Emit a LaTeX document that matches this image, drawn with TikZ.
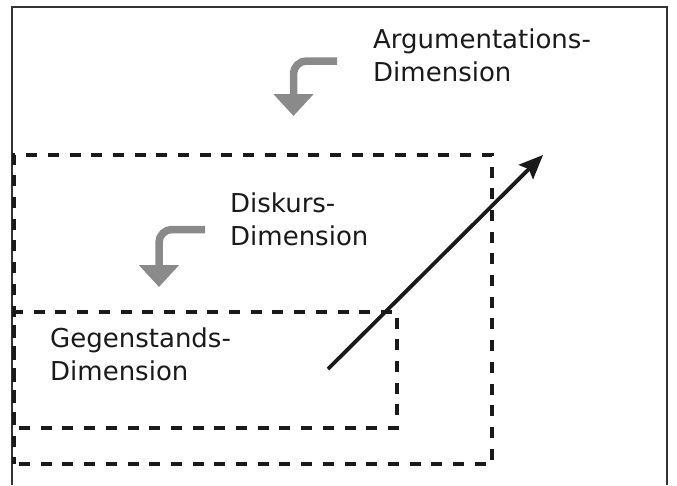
\documentclass[tikz,border=0pt]{standalone}
\usepackage{fontspec}
\setmainfont{DejaVu Sans}
\usetikzlibrary{arrows.meta}
\definecolor{arrgray}{HTML}{8A8A8A}
\definecolor{inkdark}{HTML}{1A1A1A}
\begin{document}
\begin{tikzpicture}[x=1pt,y=-1pt,
  lbl/.style={inner sep=0pt, anchor=base west, align=left,
    font=\fontsize{26}{33}\selectfont, text=inkdark},
  dimbox/.style={draw=inkdark, line width=3.3pt, dash pattern=on 11pt off 10.7pt,
    dash phase=-5pt, inner sep=0pt, outer sep=0pt, anchor=north west},
  bendarrow/.style={draw=arrgray, line width=7.5pt, rounded corners=13pt,
    -{Triangle[length=22pt,width=39pt]}},
  mainarrow/.style={draw=inkdark, line width=3.8pt,
    -{Stealth[length=24pt,width=20pt,inset=4pt]}},
  frame/.style={draw=black!80, line width=1.5pt}]
\useasboundingbox (0,0) rectangle (677,485);
% outer frame
\coordinate (f1) at (12,485);
\coordinate (f2) at (12,7);
\coordinate (f3) at (667,7);
\coordinate (f4) at (667,485);
\draw[frame] (f1) -- (f2) -- (f3) -- (f4);
% dashed boxes
\node[dimbox, minimum width=478pt, minimum height=309pt] (diskbox) at (14,155) {};
\node[dimbox, minimum width=383pt, minimum height=116pt] (gegbox) at (14,312) {};
% labels (anchor = baseline of last line)
\node[lbl] (arg) at (373,81) {Argumentations-\\Dimension};
\node[lbl] (disk) at (230,245) {Diskurs-\\Dimension};
\node[lbl] (geg) at (50,380) {Gegenstands-\\Dimension};
% gray bent arrows
\coordinate (ga1) at (337,61);
\coordinate (ga2) at (293.5,61);
\coordinate (ga3) at (293.5,116);
\draw[bendarrow] (ga1) -- (ga2) -- (ga3);
\coordinate (gd1) at (205,229.5);
\coordinate (gd2) at (159,229.5);
\coordinate (gd3) at (159,287);
\draw[bendarrow] (gd1) -- (gd2) -- (gd3);
% main diagonal arrow
\coordinate (ms) at (328,369);
\coordinate (mt) at (543,155);
\draw[mainarrow] (ms) -- (mt);
\end{tikzpicture}
\end{document}
